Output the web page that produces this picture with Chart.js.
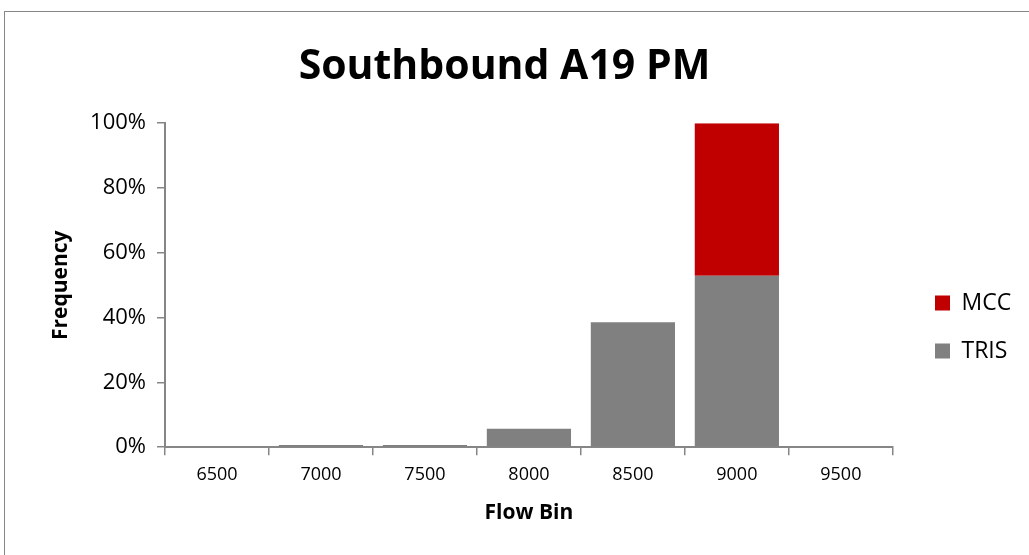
<!DOCTYPE html>
<html><head><meta charset="utf-8">
<script src="https://cdn.jsdelivr.net/npm/chart.js@4/dist/chart.umd.min.js"></script>
<style>
html,body{margin:0;padding:0;background:#fff;width:1029px;height:555px;overflow:hidden;}
#frame{position:absolute;left:4px;top:11px;width:1040px;height:560px;border:1px solid #868686;box-sizing:border-box;}
#wrap{position:absolute;left:5px;top:12px;width:1024px;height:543px;}
</style></head>
<body>
<div id="frame"></div>
<div id="wrap"><canvas id="c"></canvas></div>
<script>
const categories = ['6500','7000','7500','8000','8500','9000','9500'];
const trisValues = [0, 0.7, 0.7, 5.7, 38.6, 52.9, 0];
const mccValues = [0, 0, 0, 0, 0, 47.1, 0];
const yTicks = [0, 20, 40, 60, 80, 100];

const font = "'Open Sans','Liberation Sans',sans-serif";
const axisColor = '#868686';

const legendShift = {
  id: 'legendShift',
  afterLayout(chart) {
    const lg = chart.legend;
    if (!lg) return;
    const dx = 905 - lg.left;
    lg.left += dx; lg.right += dx;
    const dy = 50;
    lg.top += dy; lg.bottom += dy;
  }
};

new Chart(document.getElementById('c'), {
  type: 'bar',
  data: {
    labels: categories,
    datasets: [
      {label: 'TRIS', data: trisValues, backgroundColor: '#808080', borderWidth: 0},
      {label: 'MCC', data: mccValues, backgroundColor: '#C00000', borderWidth: 0}
    ]
  },
  plugins: [legendShift],
  options: {
    responsive: true,
    maintainAspectRatio: false,
    animation: false,
    layout: {padding: {left: 0, right: 25, top: 0, bottom: 13}},
    datasets: {bar: {categoryPercentage: 1.0, barPercentage: 0.81}},
    plugins: {
      title: {display: true, text: 'Southbound A19 PM', color: '#000',
        font: {family: font, size: 41, weight: 'bold'}, padding: {top: 31, bottom: 31}},
      legend: {position: 'right', reverse: true,
        labels: {boxWidth: 15, boxHeight: 15, color: '#000', padding: 25,
          font: {family: font, size: 23}}},
      tooltip: {enabled: false}
    },
    scales: {
      x: {stacked: true,
        grid: {display: true, drawOnChartArea: false, offset: true, color: axisColor, tickLength: 8, tickColor: axisColor, lineWidth: 1.5},
        border: {color: axisColor, width: 2},
        ticks: {color: '#000', font: {family: font, size: 18}, padding: 9},
        title: {display: true, text: 'Flow Bin', color: '#000', font: {family: font, size: 21, weight: 'bold'}, padding: {top: 6, bottom: 16}}
      },
      y: {stacked: true, min: 0, max: 100,
        afterBuildTicks: s => { s.ticks = yTicks.map(v => ({value: v})); },
        afterFit: s => { s.width = 160; },
        grid: {display: true, drawOnChartArea: false, color: axisColor, tickLength: 8, tickColor: axisColor, lineWidth: 1.5},
        border: {color: axisColor, width: 2},
        ticks: {color: '#000', font: {family: font, size: 22}, padding: 11, callback: v => v + '%'},
        title: {display: true, text: 'Frequency', color: '#000', font: {family: font, size: 21, weight: 'bold'}, padding: {top: 43, bottom: 0}}
      }
    }
  }
});
</script>
</body></html>
